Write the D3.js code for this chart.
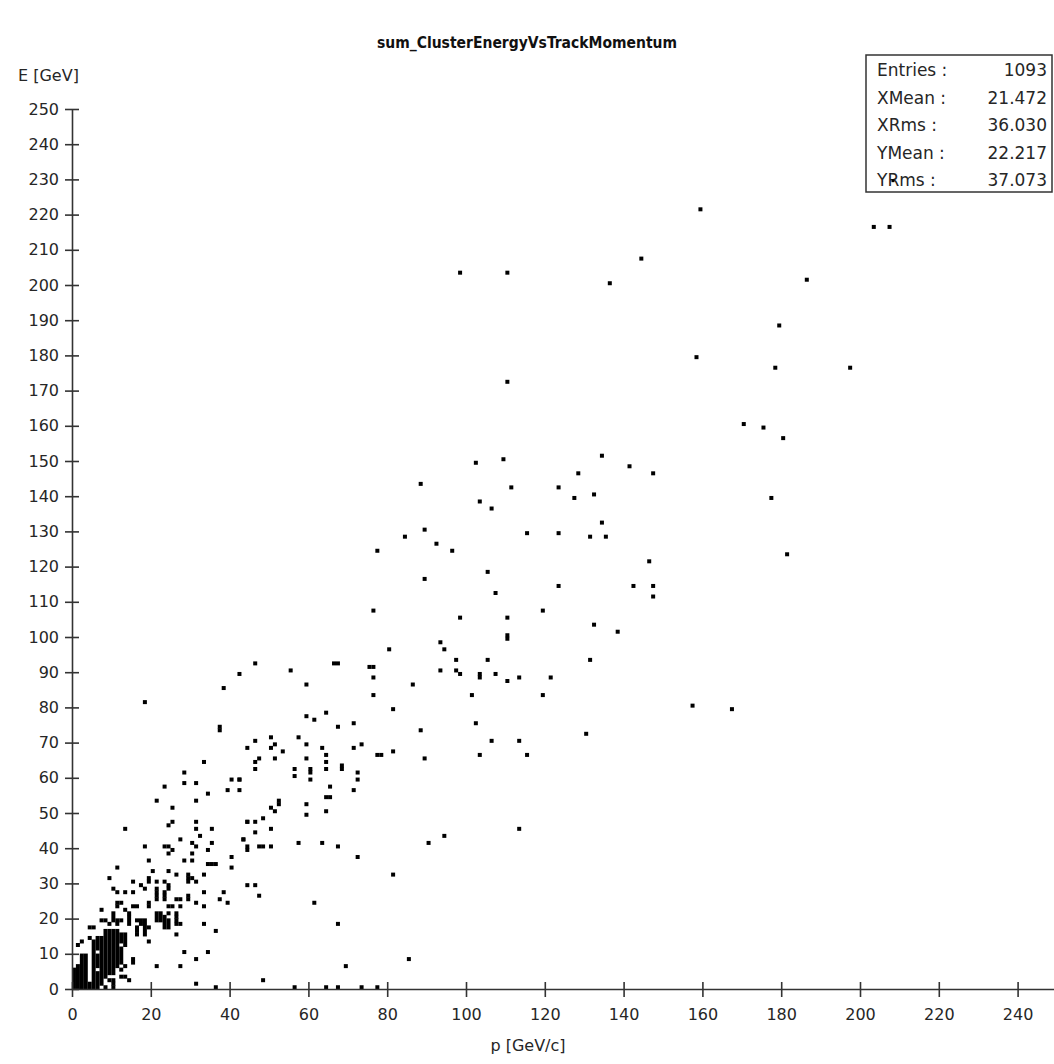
<!DOCTYPE html>
<html><head><meta charset="utf-8">
<script src="https://cdn.jsdelivr.net/npm/d3@7"></script>
<style>body{margin:0;background:#fff}svg{display:block}</style>
</head><body>
<svg id="c" width="1054" height="1064"></svg>
<script>
const title = "sum_ClusterEnergyVsTrackMomentum";
const xLabel = "p [GeV/c]";
const yLabel = "E [GeV]";
const xTicks = [0,20,40,60,80,100,120,140,160,180,200,220,240];
const yTicks = [0,10,20,30,40,50,60,70,80,90,100,110,120,130,140,150,160,170,180,190,200,210,220,230,240,250];
const statsLabels = ["Entries :","XMean :","XRms :","YMean :","YRms :"];
const statsValues = ["1093","21.472","36.030","22.217","37.073"];

// dense core: filled vertical runs of bins [p bin, E low bin, E high bin]
const denseRuns = [
 [0,0,5],[1,0,6],[2,0,9],[3,0,9],[4,0,1],[5,0,13],[6,0,4],[6,6,9],[6,11,14],
 [7,1,14],[8,3,16],[9,4,16],[10,4,16],[11,6,16],[12,7,11],[12,13,15],[13,12,15],
 [18,15,19],[23,17,20],[24,17,19],[21,19,21],[10,19,21],[14,18,20],[22,19,21]
];

// isolated filled bins [p bin, E bin]
const cells = [
 [159,221],[203,216],[207,216],[144,207],[186,201],[179,188],[158,179],[178,176],[197,176],
 [170,160],[175,159],[180,156],[177,139],[181,123],[167,79],[98,203],[110,203],[136,200],
 [110,172],[134,151],[102,149],[109,150],[141,148],[128,146],[147,146],[88,143],[111,142],
 [123,142],[127,139],[132,140],[103,138],[106,136],[134,132],[89,130],[84,128],[92,126],
 [96,124],[115,129],[123,129],[131,128],[135,128],[146,121],[105,118],[89,116],[123,114],
 [142,114],[147,114],[147,111],[107,112],[119,107],[98,105],[110,105],[132,103],[138,101],
 [110,100],[110,99],[80,96],[93,98],[94,96],[97,93],[105,93],[131,93],[93,90],[97,90],
 [98,89],[103,89],[103,88],[107,89],[113,88],[121,88],[110,87],[86,86],[101,83],[119,83],
 [157,80],[81,79],[102,75],[88,73],[106,70],[113,70],[130,72],[81,67],[78,66],[89,65],
 [103,66],[115,66],[90,41],[94,43],[113,45],[77,124],[76,107],[18,81],
 [46,92],[66,92],[67,92],[75,91],[76,91],[55,90],[76,88],[59,86],[76,83],[59,77],[64,78],
 [61,76],[67,74],[71,75],[46,70],[50,71],[44,68],[50,68],[51,69],[53,67],[57,71],[59,69],
 [63,68],[64,66],[71,68],[73,69],[77,66],[46,64],[47,65],[51,65],[46,62],[56,62],[56,60],
 [59,65],[60,62],[60,61],[60,59],[64,64],[64,62],[68,63],[68,62],[72,61],[72,59],[65,57],
 [71,56],[42,59],[52,53],[52,52],[50,51],[51,50],[59,52],[59,49],[64,54],[65,54],[64,50],
 [48,48],[44,47],[46,47],[50,45],[46,44],[43,42],[44,40],[44,39],[47,40],[48,40],[50,40],
 [57,41],[63,41],[67,40],[72,37],[81,32],[44,29],[46,29],[47,26],[61,24],[67,18],[69,6],
 [85,8],[48,2],[56,0],[64,0],[67,0],[73,0],[77,0],
 [42,89],[38,85],[37,74],[37,73],[33,64],[28,61],[23,57],[28,58],[31,58],[34,55],[21,53],
 [31,53],[25,51],[25,47],[24,46],[31,47],[31,45],[35,45],[27,42],[30,41],[31,40],[35,41],
 [23,40],[24,40],[40,59],[42,59],[39,56],[42,56],
 [13,45],[44,47],[18,40],[43,42],[24,38],[30,38],[34,39],[19,36],[30,36],[34,35],[35,35],
 [36,35],[40,37],[40,34],[11,34],[24,33],[26,32],[29,32],[29,31],[29,30],[30,31],[31,30],
 [33,32],[9,31],[15,30],[19,31],[21,30],[23,30],[24,29],[24,28],[33,27],[38,27],[10,28],
 [11,27],[13,27],[15,27],[18,28],[21,28],[21,27],[21,26],[21,25],[23,27],[23,26],[23,25],
 [26,25],[27,25],[29,26],[29,25],[37,25],[39,24],[11,24],[12,24],
 [15,23],[16,23],[19,24],[19,23],[24,23],[25,23],[27,23],[33,23],[31,24],
 [1,12],[2,13],[4,14],[4,17],[5,17],[7,19],[8,19],[9,18],[11,18],[11,19],[12,19],[7,22],
 [13,22],[11,23],[16,19],[17,18],[17,19],[16,15],[16,16],[16,17],[19,13],[19,17],[24,21],
 [26,18],[26,19],[26,20],[26,21],[27,18],[26,15],[28,10],[31,8],[33,18],[36,16],[27,6],
 [21,6],[15,7],[15,8],[31,1],[36,0],[13,3],[13,6],[8,0],[10,0],[10,1],[10,2],[14,2],
 [12,3],[12,5],[9,2],[34,10],[19,30],[20,33],[28,36],[25,39],[32,43],[17,29],[14,21],
 [208,229]
];

const svg = d3.select("#c");
const x = d3.scaleLinear().domain([0,250]).range([72,1057]);
const y = d3.scaleLinear().domain([0,250]).range([989,109]);
const font = "'DejaVu Sans', sans-serif";
const ink = "#262626";
const mk = 4;

svg.append("text").attr("x",527).attr("y",48).attr("text-anchor","middle")
  .attr("font-family","'DejaVu Sans Condensed','DejaVu Sans',sans-serif").attr("font-weight","bold")
  .attr("font-size",15.5).attr("fill","#111").text(title);

// marks
const g = svg.append("g");
g.selectAll("rect.run").data(denseRuns).join("rect").attr("class","run")
  .attr("x",d=>x(d[0]+0.5)-mk/2).attr("width",mk)
  .attr("y",d=>y(d[2]+0.5)-mk/2).attr("height",d=>y(d[1]+0.5)-y(d[2]+0.5)+mk)
  .attr("fill","#000");
g.selectAll("rect.cell").data(cells.filter(c=>c[1]<=225)).join("rect").attr("class","cell")
  .attr("x",d=>x(d[0]+0.5)-mk/2).attr("y",d=>y(d[1]+0.5)-mk/2)
  .attr("width",mk).attr("height",mk).attr("fill","#000");

// axes
const yAxis = svg.append("g").attr("transform","translate(72,0)")
  .call(d3.axisLeft(y).tickValues(yTicks).tickSize(7).tickSizeOuter(0).tickPadding(6));
const xAxis = svg.append("g").attr("transform","translate(0,989)")
  .call(d3.axisBottom(x).tickValues(xTicks).tickSize(8).tickSizeOuter(0).tickPadding(9));
yAxis.selectAll(".tick line").attr("x1",7);
xAxis.selectAll(".tick line").attr("y1",-7);
[yAxis,xAxis].forEach(a=>{
  a.selectAll("path.domain,.tick line").attr("stroke","#333").attr("stroke-width",1.6);
  a.selectAll("text").attr("font-family",font).attr("font-size",16).attr("fill",ink);
});
xAxis.selectAll("text").attr("dy","0.9em");

svg.append("text").attr("x",528).attr("y",1051).attr("text-anchor","middle")
  .attr("font-family",font).attr("font-size",16).attr("fill",ink).text(xLabel);
svg.append("text").attr("x",18).attr("y",81)
  .attr("font-family",font).attr("font-size",16).attr("fill",ink).text(yLabel);

// stats box
const sb = svg.append("g");
sb.append("rect").attr("x",866).attr("y",55).attr("width",186).attr("height",137)
  .attr("fill","#fff").attr("stroke","#333").attr("stroke-width",1.5);
statsLabels.forEach((l,i)=>{
  sb.append("text").attr("x",877).attr("y",76+i*27.5).attr("font-family",font)
    .attr("font-size",17).attr("fill",ink).text(l);
  sb.append("text").attr("x",1047).attr("y",76+i*27.5).attr("text-anchor","end")
    .attr("font-family",font).attr("font-size",17).attr("fill",ink).text(statsValues[i]);
});
svg.selectAll("rect.top").data(cells.filter(c=>c[1]>225)).join("rect").attr("class","top")
  .attr("x",d=>x(d[0]+0.5)-mk/2).attr("y",d=>y(d[1]+0.5)-mk/2)
  .attr("width",3).attr("height",3).attr("fill","#000");
</script>
</body></html>
